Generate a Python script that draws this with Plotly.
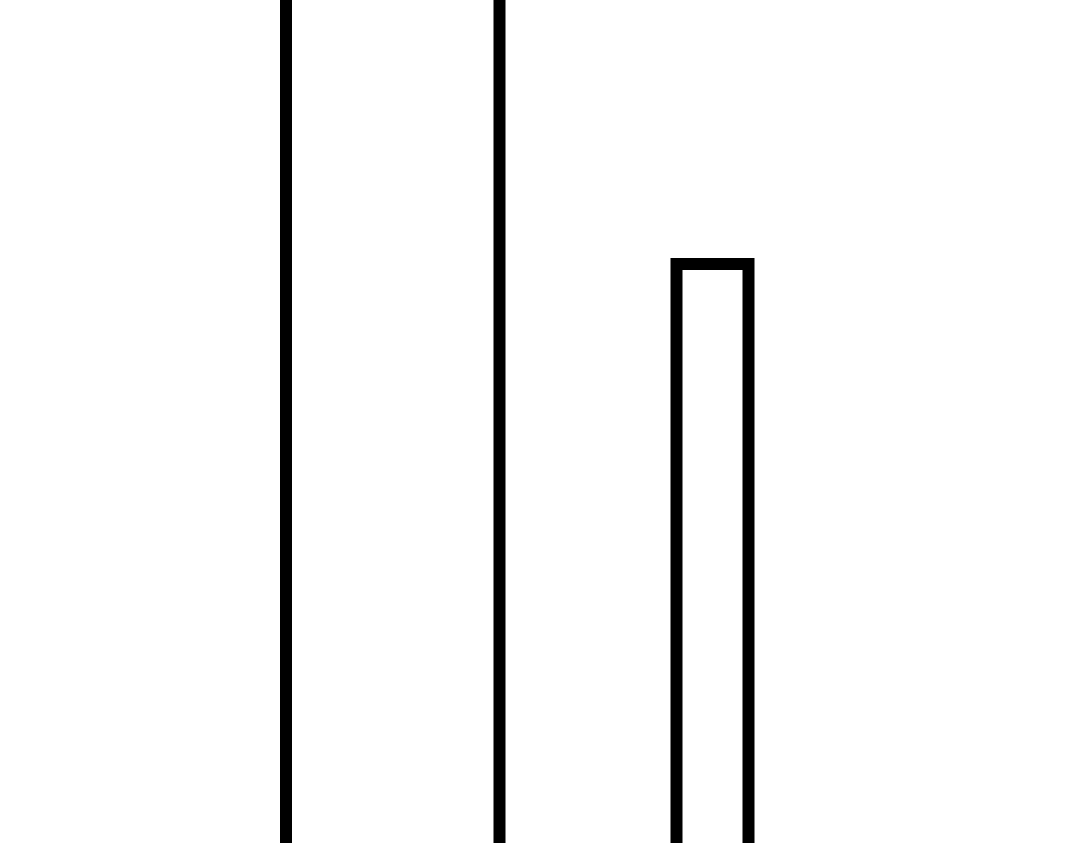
import plotly.graph_objects as go

# bar data: centre position, width and height of each bar
centres = [3.9275, 7.125]
widths = [2.135, 0.72]
heights = [12, 7]

fig = go.Figure()
fig.add_trace(go.Bar(
    x=centres,
    y=heights,
    width=widths,
    marker=dict(color="white", line=dict(color="black", width=12)),
))

fig.update_layout(
    width=1080, height=843,
    margin=dict(l=0, r=0, t=0, b=0),
    paper_bgcolor="white", plot_bgcolor="white",
    showlegend=False,
)
fig.update_xaxes(range=[0, 10.8], visible=False, showgrid=False, zeroline=False)
fig.update_yaxes(range=[1, 9.736], visible=False, showgrid=False, zeroline=False)

# drop the page's default body margin so the figure fills the window
fig.write_html("out.html", config={"displayModeBar": False},
               post_script="document.body.style.margin='0';")
